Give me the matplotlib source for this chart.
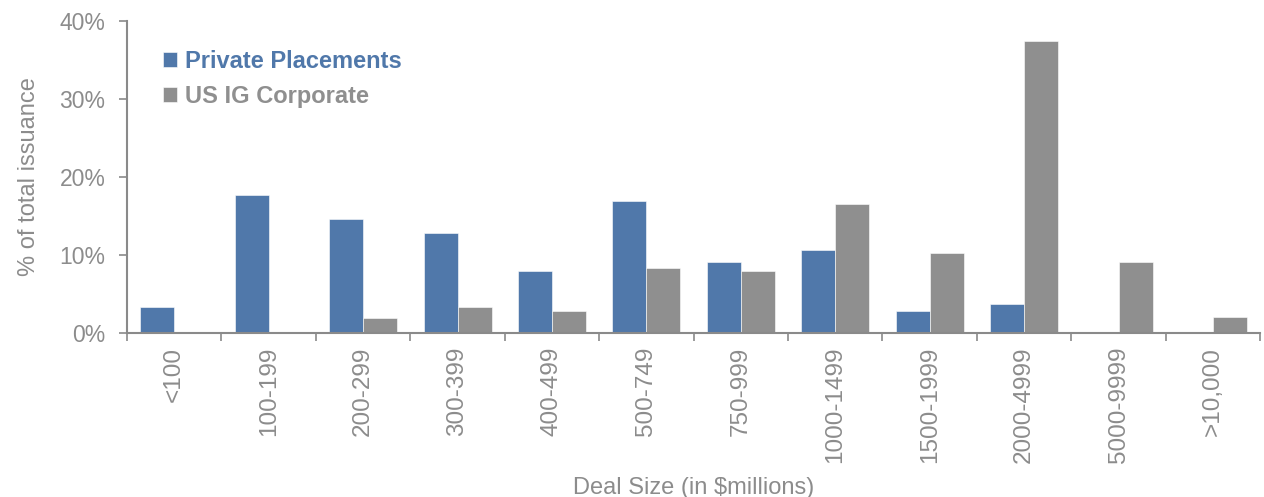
import numpy as np
import matplotlib.pyplot as plt
from matplotlib.ticker import FuncFormatter

plt.rcParams['font.family'] = ['Liberation Sans', 'DejaVu Sans']

# Data (percent of total issuance)
categories = ["<100", "100-199", "200-299", "300-399", "400-499", "500-749",
              "750-999", "1000-1499", "1500-1999", "2000-4999", "5000-9999", ">10,000"]
private_placements = [3.3, 17.7, 14.6, 12.8, 7.9, 16.9, 9.1, 10.6, 2.8, 3.7, 0.0, 0.0]
us_ig_corporate = [0.0, 0.0, 1.9, 3.3, 2.8, 8.3, 7.9, 16.5, 10.2, 37.4, 9.1, 2.1]

blue = "#5078AA"
grey = "#8F8F8F"
text_grey = "#8C8C8C"
axis_grey = "#8A8A8A"

fig = plt.figure(figsize=(12.64, 4.97), dpi=100)
ax = fig.add_axes([0.1005, 0.33, 0.8965, 0.628])

x = np.arange(len(categories))
w = 0.36
ax.bar(x - w / 2, private_placements, w, color=blue, edgecolor="white", linewidth=0.4,
       label="Private Placements")
ax.bar(x + w / 2, us_ig_corporate, w, color=grey, edgecolor="white", linewidth=0.4,
       label="US IG Corporate")

ax.set_xlim(-0.5, len(categories) - 0.5)
ax.set_ylim(0, 40)
ax.set_yticks([0, 10, 20, 30, 40])
ax.yaxis.set_major_formatter(FuncFormatter(lambda v, p: f"{v:.0f}%"))

# category labels centred, ticks on boundaries
ax.set_xticks(x)
ax.set_xticklabels(categories, rotation=90, fontsize=17.5, color=text_grey)
ax.set_xticks(np.arange(-0.5, len(categories)), minor=True)
ax.tick_params(axis="x", which="major", length=0, pad=10)
ax.tick_params(axis="x", which="minor", length=5.5, width=1.2, color=axis_grey, direction="out")
ax.tick_params(axis="y", length=5.5, width=1.2, color=axis_grey, labelsize=16.5,
               labelcolor=text_grey, pad=10)

for s in ["top", "right"]:
    ax.spines[s].set_visible(False)
for s in ["left", "bottom"]:
    ax.spines[s].set_color(axis_grey)
    ax.spines[s].set_linewidth(1.5)

ax.set_ylabel("% of total issuance", fontsize=17, color=text_grey, labelpad=14)
ax.set_xlabel("Deal Size (in \\$millions)", fontsize=17, color=text_grey, labelpad=10)

leg = ax.legend(loc="upper left", bbox_to_anchor=(0.013, 0.975), frameon=False,
                handlelength=0.6, handleheight=0.6, handletextpad=0.35,
                labelspacing=0.5, prop={"size": 17, "weight": "bold"})
for t, c in zip(leg.get_texts(), [blue, grey]):
    t.set_color(c)

fig.savefig("out.png", dpi=100)
